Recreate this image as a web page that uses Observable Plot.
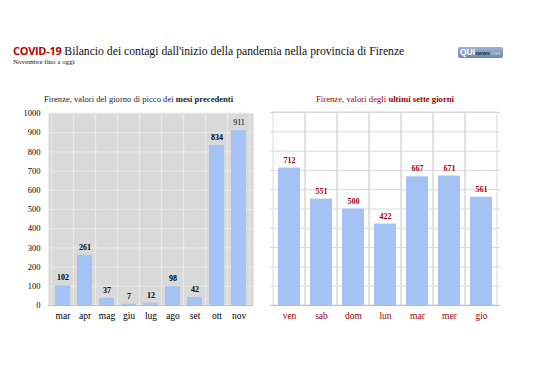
<!DOCTYPE html>
<html><head><meta charset="utf-8">
<script src="https://cdn.jsdelivr.net/npm/d3@7"></script>
<script src="https://cdn.jsdelivr.net/npm/@observablehq/plot@0.6"></script>
<style>
body{margin:0;background:#fff;}
#page{position:relative;width:538px;height:380px;overflow:hidden;font-family:"Liberation Serif",serif;}
.abs{position:absolute;white-space:nowrap;}
</style></head>
<body><div id="page">
<div class="abs" style="left:13px;top:43px;font-size:11.7px;color:#111;"><span style="font-family:'Open Sans',sans-serif;font-weight:700;color:#c00000;font-size:11px;letter-spacing:-0.3px">COVID-19</span> Bilancio dei contagi dall'inizio della pandemia nella provincia di Firenze</div>
<div class="abs" style="left:13px;top:58px;font-size:7px;color:#111;">Novembre fino a oggi</div>
<div class="abs" style="left:458px;top:47px;width:45px;height:11px;border-radius:2px;background:linear-gradient(#9fb1cf,#6f86ad);font-family:'Liberation Sans',sans-serif;font-size:8.5px;line-height:11px;color:#fff;font-weight:700;padding-left:2px;box-sizing:border-box;">QUI<span style="font-size:6px;color:#1b2c50;">news</span><span style="font-size:6px;color:#c9d4e6;font-weight:400">.net</span></div>
<div class="abs" style="left:44px;top:94px;font-size:8.6px;color:#222;">Firenze, valori del giorno di picco dei <b>mesi precedenti</b></div>
<div class="abs" style="left:316px;top:94px;font-size:8.7px;color:#9b0000;">Firenze, valori degli <b>ultimi sette giorni</b></div>
<div id="left" class="abs" style="left:18px;top:103px;"></div>
<div id="right" class="abs" style="left:262px;top:103px;"></div>
</div>
<script>
const months = ["mar","apr","mag","giu","lug","ago","set","ott","nov"];
const monthValues = [102,261,37,7,12,98,42,834,911];
const days = ["ven","sab","dom","lun","mar","mer","gio"];
const dayValues = [712,551,500,422,667,671,561];
const yTicks = [0,100,200,300,400,500,600,700,800,900,1000];

const monthData = months.map((m,i)=>({k:m,v:monthValues[i]}));
const dayData = days.map((d,i)=>({k:d,v:dayValues[i]}));
const barColor = "#a4c2f4";

function chart({data, keys, width, height, ml, mr, mt, mb, bg, grid, labelColor, showY, tickColor}) {
  const pw = width - ml - mr;
  const step = pw / keys.length;
  const half = step * 0.15;
  const marks = [];
  if (bg) marks.push(Plot.frame({fill: bg, stroke: null}));
  marks.push(Plot.ruleY(yTicks, {stroke: grid, strokeWidth: 1}));
  marks.push(Plot.barY(data, {x: "k", y1: 0, y2: 1000, fill: "none", stroke: grid, insetLeft: -half, insetRight: -half}));
  marks.push(Plot.barY(data, {x: "k", y: "v", fill: barColor}));
  marks.push(Plot.ruleY([0], {stroke: "#bfbfbf"}));
  const normal = labelColor === "black" ? data.filter(d => d.v === 911) : [];
  const bold = data.filter(d => !normal.includes(d));
  marks.push(Plot.text(bold, {x: "k", y: "v", text: d => String(d.v), dy: -8, fill: labelColor, fontWeight: "bold", fontSize: 8}));
  marks.push(Plot.text(normal, {x: "k", y: "v", text: d => String(d.v), dy: -8, fill: labelColor, fontSize: 8}));
  if (showY) marks.push(Plot.axisY(yTicks, {tickSize: 0, tickPadding: 8, fontSize: 8.5, fill: "black", tickFormat: d => String(d)}));
  marks.push(Plot.axisX({tickSize: 0, tickPadding: 7, fontSize: 9.5, fill: tickColor, label: null}));
  return Plot.plot({
    width, height, marginLeft: ml, marginRight: mr, marginTop: mt, marginBottom: mb,
    style: {fontFamily: "Liberation Serif, serif", background: "transparent", overflow: "visible", color: tickColor},
    x: {domain: keys, paddingInner: 0.3, paddingOuter: 0.15, label: null},
    y: {domain: [0, 1000], label: null, axis: null},
    marks
  });
}

document.getElementById("left").append(chart({data: monthData, keys: months, width: 240, height: 227, ml: 30, mr: 5, mt: 10, mb: 25, bg: "#d9d9d9", grid: "#e9e9e9", labelColor: "black", showY: true, tickColor: "black"}));
document.getElementById("right").append(chart({data: dayData, keys: days, width: 244, height: 227, ml: 8, mr: 6, mt: 9, mb: 25, bg: null, grid: "#d9d9d9", labelColor: "#9b0000", showY: false, tickColor: "#9b0000"}));
</script>
</body></html>
